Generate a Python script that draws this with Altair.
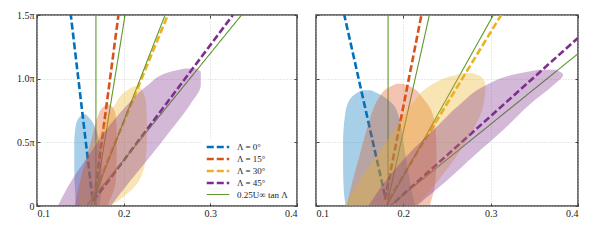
import altair as alt
import pandas as pd

series = ["Λ = 0°", "Λ = 15°", "Λ = 30°", "Λ = 45°", "0.25U∞ tan Λ"]
colors = ["#0072BD", "#D95319", "#EDB120", "#7E2F8E", "#5E9A2C"]
dashes = [[7, 3], [7, 3], [7, 3], [7, 3], [1, 0]]
widths = [2.6, 2.6, 2.6, 2.6, 1.1]

# dashed fit lines: (x_start, y_start) -> (x_end, y_end), y in units of pi
L_dash_x0 = [0.164, 0.166, 0.163, 0.165]
L_dash_y0 = [0.06, 0.06, 0.05, 0.04]
L_dash_x1 = [0.139, 0.194, 0.251, 0.326]
L_dash_y1 = [1.5, 1.5, 1.5, 1.5]
R_dash_x0 = [0.179, 0.179, 0.183, 0.190]
R_dash_y0 = [0.08, 0.05, 0.05, 0.03]
R_dash_x1 = [0.1324, 0.2207, 0.312, 0.400]
R_dash_y1 = [1.5, 1.5, 1.5, 1.32]

# green 0.25 U tan(Lambda) lines
L_green_x0 = [0.168, 0.166, 0.162, 0.157]
L_green_x1 = [0.168, 0.2016, 0.2478, 0.336]
L_green_y1 = [1.5, 1.5, 1.5, 1.5]
R_green_x0 = [0.1825, 0.181, 0.181, 0.184]
R_green_x1 = [0.1825, 0.2298, 0.3031, 0.400]
R_green_y1 = [1.5, 1.5, 1.5, 1.196]

# shaded regions: y levels (pi units) with left / right x bounds
L_blob_y = [
    [0.0, 0.1, 0.3, 0.5, 0.6, 0.68, 0.72],
    [0.0, 0.2, 0.4, 0.55, 0.7, 0.77, 0.80],
    [0.0, 0.1, 0.2, 0.4, 0.6, 0.8, 0.9, 0.94],
    [0.0, 0.2, 0.4, 0.6, 0.8, 0.95, 1.05, 1.08],
]
L_blob_xl = [
    [0.145, 0.144, 0.143, 0.143, 0.144, 0.147, 0.153],
    [0.143, 0.150, 0.158, 0.164, 0.170, 0.175, 0.180],
    [0.150, 0.148, 0.150, 0.160, 0.175, 0.190, 0.202, 0.212],
    [0.124, 0.140, 0.160, 0.180, 0.205, 0.228, 0.252, 0.270],
]
L_blob_xr = [
    [0.172, 0.174, 0.175, 0.172, 0.168, 0.162, 0.156],
    [0.181, 0.191, 0.192, 0.192, 0.191, 0.188, 0.183],
    [0.185, 0.205, 0.218, 0.226, 0.227, 0.226, 0.222, 0.218],
    [0.185, 0.208, 0.232, 0.255, 0.277, 0.289, 0.289, 0.283],
]
R_blob_y = [
    [0.0, 0.1, 0.3, 0.5, 0.7, 0.8, 0.87, 0.91],
    [0.0, 0.2, 0.4, 0.6, 0.75, 0.85, 0.93, 0.96],
    [0.0, 0.2, 0.4, 0.6, 0.8, 0.95, 1.02, 1.045],
    [0.0, 0.2, 0.4, 0.6, 0.8, 0.95, 1.03, 1.07],
]
R_blob_xl = [
    [0.134, 0.132, 0.131, 0.131, 0.133, 0.136, 0.143, 0.152],
    [0.135, 0.142, 0.150, 0.158, 0.165, 0.172, 0.183, 0.192],
    [0.133, 0.150, 0.170, 0.190, 0.210, 0.232, 0.255, 0.270],
    [0.160, 0.180, 0.205, 0.235, 0.265, 0.295, 0.325, 0.355],
]
R_blob_xr = [
    [0.214, 0.210, 0.205, 0.200, 0.195, 0.188, 0.175, 0.163],
    [0.230, 0.237, 0.238, 0.237, 0.232, 0.222, 0.210, 0.200],
    [0.215, 0.240, 0.262, 0.280, 0.292, 0.294, 0.288, 0.278],
    [0.215, 0.250, 0.282, 0.315, 0.345, 0.372, 0.383, 0.375],
]

x_ticks = [0.1, 0.2, 0.3, 0.4]
y_ticks = [0.0, 0.5, 1.0, 1.5]
FONT = "Liberation Serif"


def lines_frame(dx0, dy0, dx1, dy1, gx0, gx1, gy1):
    rows = []
    for i in range(4):
        rows.append(dict(series=series[i], grp=f"d{i}", x=dx0[i], y=dy0[i], o=0))
        rows.append(dict(series=series[i], grp=f"d{i}", x=dx1[i], y=dy1[i], o=1))
    for i in range(4):
        rows.append(dict(series=series[4], grp=f"g{i}", x=gx0[i], y=0.0, o=0))
        rows.append(dict(series=series[4], grp=f"g{i}", x=gx1[i], y=gy1[i], o=1))
    return pd.DataFrame(rows)


def blobs_frame(ys, xls, xrs):
    rows = []
    for i in range(4):
        for y, a, b in zip(ys[i], xls[i], xrs[i]):
            rows.append(dict(blob=series[i], y=y, xl=a, xr=b))
    return pd.DataFrame(rows)


def panel(ldf, bdf, ylabels, legend, width):
    xs = alt.Scale(domain=[0.1, 0.4], nice=False, zero=False)
    ys = alt.Scale(domain=[0, 1.5], nice=False, zero=False)
    xax = alt.Axis(values=x_ticks, format=".1f", title=None, grid=True,
                   gridDash=[1, 2], gridColor="#c8c8c8", gridWidth=0.8,
                   domain=False, ticks=True, tickSize=3, offset=-3,
                   tickColor="#444", labelPadding=2, labelFont=FONT,
                   labelFontSize=10, labelColor="#222")
    yax = alt.Axis(values=y_ticks, title=None, grid=True, gridDash=[1, 2],
                   gridColor="#c8c8c8", gridWidth=0.8, domain=False,
                   ticks=True, tickSize=3, offset=-3, tickColor="#444",
                   labels=ylabels, labelPadding=3, labelFont=FONT,
                   labelFontSize=10, labelColor="#222",
                   labelExpr="datum.value == 0 ? '0' : format(datum.value, '.1f') + 'π'")
    xax_top = alt.Axis(orient="top", values=x_ticks, title=None, grid=False,
                       domain=False, ticks=True, tickSize=3, offset=-3,
                       tickColor="#444", labels=False)
    yax_right = alt.Axis(orient="right", values=y_ticks, title=None, grid=False,
                         domain=False, ticks=True, tickSize=3, offset=-3,
                         tickColor="#444", labels=False)
    if legend:
        leg = alt.Legend(title=None, orient="none", legendX=164, legendY=124,
                         symbolType="M-2.5,0H2.5", symbolSize=81, labelFont=FONT,
                         labelFontSize=9, labelColor="#222", fillColor="white",
                         padding=2, rowPadding=0, labelOffset=13,
                         symbolOffset=9)
    else:
        leg = None
    cs = alt.Scale(domain=series, range=colors)
    ds = alt.Scale(domain=series, range=dashes)
    ws = alt.Scale(type="ordinal", domain=series, range=widths)
    if leg is None:
        col = alt.Color("series:N", scale=cs, legend=None)
        dsh = alt.StrokeDash("series:N", scale=ds, legend=None)
        wid = alt.StrokeWidth("series:N", scale=ws, legend=None)
    else:
        col = alt.Color("series:N", scale=cs, legend=leg)
        dsh = alt.StrokeDash("series:N", scale=ds, legend=leg)
        wid = alt.StrokeWidth("series:N", scale=ws, legend=leg)
    lines = alt.Chart(ldf).mark_line(clip=True).encode(
        x=alt.X("x:Q", scale=xs, axis=xax),
        y=alt.Y("y:Q", scale=ys, axis=yax),
        color=col, strokeDash=dsh, strokeWidth=wid,
        detail="grp:N", order="o:Q",
    )
    blobs = alt.Chart(bdf).mark_area(orient="horizontal", opacity=0.34,
                                     interpolate="monotone", clip=True).encode(
        y=alt.Y("y:Q", scale=ys, axis=yax_right),
        x=alt.X("xl:Q", scale=xs, axis=xax_top),
        x2="xr:Q",
        fill=alt.Fill("blob:N", scale=alt.Scale(domain=series[:4], range=colors[:4]), legend=None),
    )
    return alt.layer(lines, blobs).resolve_axis(x="independent", y="independent").properties(
        width=width, height=191)


left = panel(lines_frame(L_dash_x0, L_dash_y0, L_dash_x1, L_dash_y1, L_green_x0, L_green_x1, L_green_y1),
             blobs_frame(L_blob_y, L_blob_xl, L_blob_xr), True, True, 260)
right = panel(lines_frame(R_dash_x0, R_dash_y0, R_dash_x1, R_dash_y1, R_green_x0, R_green_x1, R_green_y1),
              blobs_frame(R_blob_y, R_blob_xl, R_blob_xr), False, False, 262)

chart = alt.hconcat(left, right, spacing=19, bounds="flush").resolve_scale(
    color="independent", strokeDash="independent", strokeWidth="independent", fill="independent"
).configure_view(stroke="#444", strokeWidth=1.5).properties(
    padding={"left": 7, "top": 1, "right": 5, "bottom": 2}
)

chart.save("out.html", embed_options={"renderer": "svg", "actions": False})
